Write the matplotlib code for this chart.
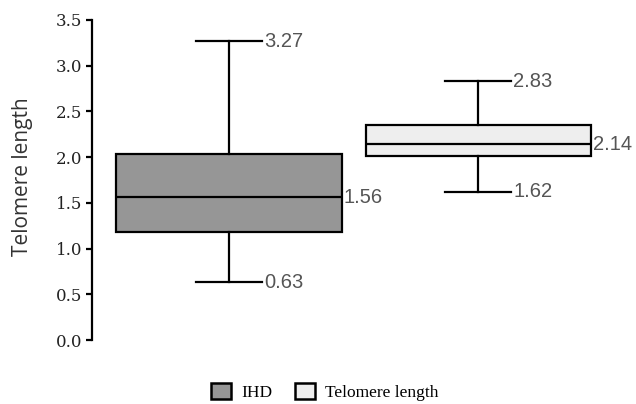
import matplotlib.pyplot as plt
from matplotlib.patches import Patch

groups = ["IHD", "Telomere length"]
low = [0.63, 1.62]
q1 = [1.18, 2.01]
med = [1.56, 2.14]
q3 = [2.03, 2.35]
high = [3.27, 2.83]
fills = ["#969696", "#eeeeee"]

fig = plt.figure(figsize=(6.36, 4.04), dpi=100)
ax = fig.add_axes([0.1447, 0.1584, 0.84, 0.7921])

stats = []
for i in range(len(groups)):
    stats.append({"label": groups[i], "whislo": low[i], "q1": q1[i], "med": med[i],
                  "q3": q3[i], "whishi": high[i], "fliers": []})

bp = ax.bxp(stats, positions=[1, 2], widths=0.904, capwidths=0.263,
            showfliers=False, patch_artist=True,
            boxprops=dict(edgecolor="black", linewidth=1.6),
            medianprops=dict(color="black", linewidth=1.6),
            whiskerprops=dict(color="black", linewidth=1.6),
            capprops=dict(color="black", linewidth=1.6))
for patch, c in zip(bp["boxes"], fills):
    patch.set_facecolor(c)

txt = dict(color="#555555", fontsize=14.5, family="Liberation Sans", va="center")
for i, pos in enumerate([1, 2]):
    ax.text(pos + 0.14, high[i], "%.2f" % high[i], ha="left", **txt)
    ax.text(pos + 0.14, low[i], "%.2f" % low[i], ha="left", **txt)
    ax.text(pos + 0.46, med[i], "%.2f" % med[i], ha="left", **txt)

ax.set_xlim(0.45, 2.594)
ax.set_ylim(0, 3.5)
ax.set_yticks([0, 0.5, 1.0, 1.5, 2.0, 2.5, 3.0, 3.5])
ax.set_yticklabels(["%.1f" % v for v in ax.get_yticks()], family="DejaVu Serif",
                   fontsize=12, color="#222222")
ax.set_xticks([])
for s in ["top", "right", "bottom"]:
    ax.spines[s].set_visible(False)
ax.spines["left"].set_linewidth(1.6)
ax.tick_params(axis="y", length=4, width=1.6, pad=3)
ax.set_ylabel("Telomere length", fontsize=15, family="Open Sans", color="#333333")
ax.yaxis.set_label_coords(-0.11, 0.51)

handles = [Patch(facecolor=c, edgecolor="black", linewidth=1.8) for c in fills]
fig.legend(handles, groups, loc="center", bbox_to_anchor=(0.511, 0.03), ncol=2,
           frameon=False, prop={"family": "Liberation Serif", "size": 12.5},
           handlelength=1.15, handleheight=1.0, columnspacing=1.3, handletextpad=0.6)

fig.savefig("out.png", dpi=100)
